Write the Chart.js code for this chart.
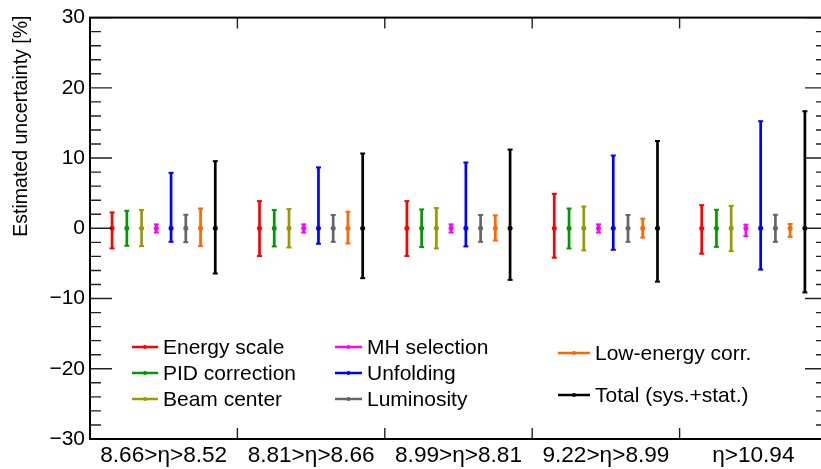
<!DOCTYPE html>
<html>
<head>
<meta charset="utf-8">
<script src="https://cdn.jsdelivr.net/npm/chart.js@4/dist/chart.umd.min.js"></script>
<style>
  body { margin: 0; background: #fff; }
  #wrap { width: 821px; height: 469px; overflow: hidden; }
</style>
</head>
<body>
<div id="wrap"><canvas id="uncChart" width="832" height="469"></canvas></div>
<script>
const categories = ["8.66>η>8.52", "8.81>η>8.66", "8.99>η>8.81", "9.22>η>8.99", "η>10.94"];

// upper / lower edges of each error bar (%)
const energyUp = [2.26, 3.87, 3.87, 4.9, 3.3];
const energyDown = [-2.87, -3.95, -3.95, -4.19, -3.62];
const pidUp = [2.5, 2.6, 2.69, 2.82, 2.64];
const pidDown = [-2.49, -2.58, -2.68, -2.87, -2.64];
const beamUp = [2.6, 2.74, 2.88, 3.1, 3.2];
const beamDown = [-2.54, -2.73, -2.87, -3.15, -3.25];
const mhUp = [0.56, 0.56, 0.56, 0.56, 0.52];
const mhDown = [-0.61, -0.61, -0.61, -0.61, -1.13];
const unfoldUp = [7.9, 8.67, 9.37, 10.36, 15.25];
const unfoldDown = [-1.92, -2.2, -2.58, -3.06, -5.88];
const lumiUp = [1.93, 1.89, 1.89, 1.89, 1.93];
const lumiDown = [-1.98, -1.93, -1.93, -1.93, -1.93];
const lowEUp = [2.82, 2.36, 1.84, 1.37, 0.61];
const lowEDown = [-2.54, -2.16, -1.74, -1.32, -1.22];
const totalUp = [9.56, 10.65, 11.21, 12.43, 16.67];
const totalDown = [-6.44, -7.1, -7.34, -7.6, -9.13];

const yTicks = [-30, -20, -10, 0, 10, 20, 30];

const series = [
    { label: "Energy scale", up: energyUp, down: energyDown, color: "#ff0000" },
    { label: "PID correction", up: pidUp, down: pidDown, color: "#009900" },
    { label: "Beam center", up: beamUp, down: beamDown, color: "#999900" },
    { label: "MH selection", up: mhUp, down: mhDown, color: "#ff00ff" },
    { label: "Unfolding", up: unfoldUp, down: unfoldDown, color: "#0000ff" },
    { label: "Luminosity", up: lumiUp, down: lumiDown, color: "#666666" },
    { label: "Low-energy corr.", up: lowEUp, down: lowEDown, color: "#ff6600" },
    { label: "Total (sys.+stat.)", up: totalUp, down: totalDown, color: "#000000" }
];

// legend slots: [line x0, line x1, y]
const legendSlots = [
    [132, 158, 347], [132, 158, 373], [132, 158, 399],
    [335, 362, 347], [335, 362, 373], [335, 362, 399],
    [558, 590, 353], [558, 590, 395]
];

const datasets = series.map(s => ({
    label: s.label,
    data: s.down.map((d, i) => [d, s.up[i]]),
    backgroundColor: s.color,
    borderWidth: 0,
    maxBarThickness: 2.7,
    categoryPercentage: 0.8,
    barPercentage: 1
}));

const errorBarsExtras = {
    id: "errorBarsExtras",
    afterDatasetsDraw(chart) {
        const ctx = chart.ctx;
        const y0 = chart.scales.y.getPixelForValue(0);
        ctx.save();
        chart.data.datasets.forEach((ds, di) => {
            const meta = chart.getDatasetMeta(di);
            ctx.strokeStyle = ds.backgroundColor;
            ctx.fillStyle = ds.backgroundColor;
            ctx.lineWidth = 2;
            meta.data.forEach(bar => {
                [bar.y, bar.base].forEach(py => {
                    ctx.beginPath();
                    ctx.moveTo(bar.x - 2.5, py);
                    ctx.lineTo(bar.x + 2.5, py);
                    ctx.stroke();
                });
                ctx.beginPath();
                ctx.arc(bar.x, y0, 2.5, 0, Math.PI * 2);
                ctx.fill();
            });
        });
        ctx.restore();
    },
    afterDraw(chart) {
        const ctx = chart.ctx;
        const a = chart.chartArea;
        const ys = chart.scales.y;
        const xs = chart.scales.x;
        ctx.save();

        // tick marks, ROOT style (inside the frame, both sides)
        ctx.strokeStyle = "#222";
        ctx.lineWidth = 1.4;
        for (let v = -30; v <= 30; v += 2) {
            const py = ys.getPixelForValue(v);
            const len = v % 10 === 0 ? 22 : 11;
            ctx.beginPath();
            ctx.moveTo(a.left, py); ctx.lineTo(a.left + len, py);
            ctx.moveTo(a.right, py); ctx.lineTo(a.right - len, py);
            ctx.stroke();
        }
        const half = (xs.getPixelForValue(1) - xs.getPixelForValue(0)) / 2;
        for (let i = 1; i < categories.length; i++) {
            const px = xs.getPixelForValue(i) - half;
            ctx.beginPath();
            ctx.moveTo(px, a.bottom); ctx.lineTo(px, a.bottom - 11);
            ctx.moveTo(px, a.top); ctx.lineTo(px, a.top + 11);
            ctx.stroke();
        }

        // frame
        ctx.strokeStyle = "#000";
        ctx.lineWidth = 2;
        ctx.strokeRect(a.left, a.top, a.right - a.left, a.bottom - a.top);

        // y title, aligned to top of axis
        ctx.fillStyle = "#000";
        ctx.font = "19.5px 'Liberation Sans', Arial, sans-serif";
        ctx.translate(22, a.top - 2);
        ctx.rotate(-Math.PI / 2);
        ctx.textAlign = "right";
        ctx.textBaseline = "middle";
        ctx.fillText("Estimated uncertainty [%]", 0, 0);
        ctx.setTransform(1, 0, 0, 1, 0, 0);

        // legend
        ctx.font = "21px 'Liberation Sans', Arial, sans-serif";
        ctx.textAlign = "left";
        ctx.textBaseline = "middle";
        series.forEach((s, i) => {
            const [x0, x1, y] = legendSlots[i];
            ctx.strokeStyle = s.color;
            ctx.fillStyle = s.color;
            ctx.lineWidth = 2.5;
            ctx.beginPath();
            ctx.moveTo(x0, y); ctx.lineTo(x1, y);
            ctx.stroke();
            ctx.beginPath();
            ctx.arc((x0 + x1) / 2, y, 2, 0, Math.PI * 2);
            ctx.fill();
            ctx.fillStyle = "#000";
            ctx.fillText(s.label, x1 + 5, y + 1);
        });
        ctx.restore();
    }
};

new Chart(document.getElementById("uncChart"), {
    type: "bar",
    data: {
        labels: categories,
        datasets: datasets
    },
    options: {
        responsive: false,
        animation: false,
        layout: { padding: { top: 14, right: 5, left: 0, bottom: 0 } },
        plugins: {
            legend: { display: false },
            tooltip: { enabled: false }
        },
        scales: {
            x: {
                grid: { display: false, drawTicks: false },
                border: { display: false },
                ticks: {
                    color: "#000",
                    padding: 3,
                    maxRotation: 0,
                    font: { family: "'Liberation Sans', Arial, sans-serif", size: 22.6 }
                },
                afterFit(scale) { scale.height = 30; }
            },
            y: {
                min: -30,
                max: 30,
                grid: { display: false, drawTicks: false },
                border: { display: false },
                afterBuildTicks(scale) {
                    scale.ticks = yTicks.map(v => ({ value: v }));
                },
                ticks: {
                    color: "#000",
                    padding: 5,
                    font: { family: "'Liberation Sans', Arial, sans-serif", size: 21 },
                    callback: v => String(v).replace("-", "\u2212")
                },
                afterFit(scale) { scale.width = 90; }
            }
        }
    },
    plugins: [errorBarsExtras]
});
</script>
</body>
</html>
